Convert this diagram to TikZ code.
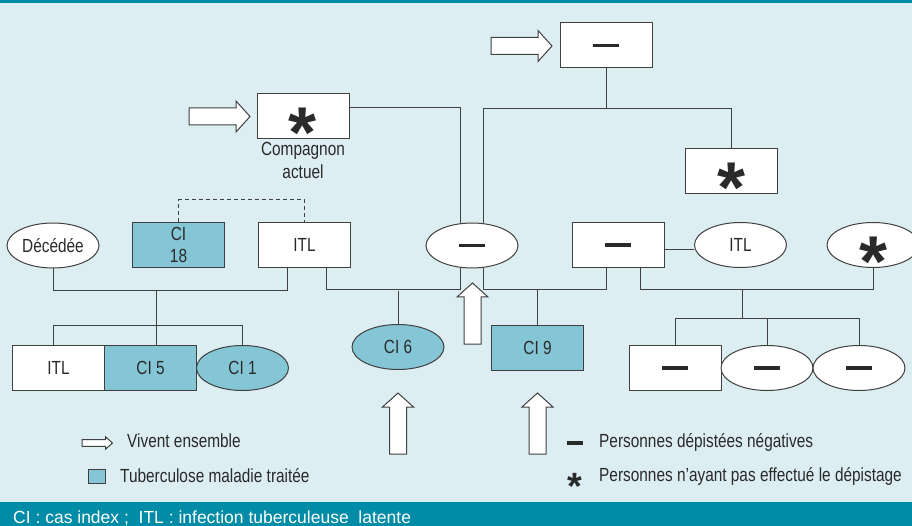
\documentclass[tikz,border=0pt]{standalone}
\usepackage{fontspec}
\setmainfont{Liberation Sans}[FakeStretch=0.81]
\newfontfamily\symfont{Liberation Sans}
\usetikzlibrary{shapes.geometric}
\usetikzlibrary{positioning}

\definecolor{bgblue}{HTML}{DDEEF3}
\definecolor{bandteal}{HTML}{008BA6}
\definecolor{cifill}{HTML}{85C6D6}
\definecolor{edgegray}{HTML}{404040}
\definecolor{inkgray}{HTML}{2A2A2A}

\newcommand\negbar[1][26pt]{\rule[-1.75pt]{#1}{3.5pt}}
\newcommand\nodestar[1][72]{{\fontsize{#1}{#1}\selectfont\raisebox{-0.57em}[0pt][0pt]{\symfont\bfseries *}}}

\tikzset{
  liveswith/.pic={
    \draw[draw=edgegray,fill=white,line width=1pt]
      (0,-8.5) -- (47,-8.5) -- (47,-15.5) -- (61,0) -- (47,15.5) -- (47,8.5) -- (0,8.5) -- cycle;
  }
}

\begin{document}
\begin{tikzpicture}
    [x=1pt,y=-1pt,
    male/.style={rectangle,draw=edgegray,fill=white,line width=1pt,
      inner sep=0pt,minimum width=92pt,minimum height=45pt,
      text=inkgray,font=\fontsize{19}{22}\selectfont,align=center},
    female/.style={male,ellipse},
    treated/.style={fill=cifill},
    link/.style={edgegray,line width=1pt},
    legendtext/.style={anchor=base west,text=inkgray,inner sep=0pt,
      font=\fontsize{19}{22}\selectfont}]

    \clip (0,0) rectangle (912,526);
    \fill[bgblue] (0,0) rectangle (912,526);
    \fill[bandteal] (0,0) rectangle (912,3);
    \fill[bandteal] (0,502) rectangle (912,526);

    % top generation
    \node[male]   (topneg)   at (606,45.5)  {\negbar};
    \node[male]   (topstar)  at (731,171.5) {\nodestar};
    \node[male]   (comp)     at (303,116.5) {\nodestar};
    \node[below=3pt of comp,align=center,inner sep=0pt,text=inkgray,
      font=\fontsize{19}{23}\selectfont] (complabel) {Compagnon\\actuel};

    % middle generation
    \node[female]         (dec)   at (53,245.5)  {Décédée};
    \node[male,treated]   (ci18)  at (178.5,245) {CI\\18};
    \node[male]           (itla)  at (304.5,245) {ITL};
    \node[female]         (mid)   at (472,245.5) {\negbar};
    \node[male]           (negr)  at (618,245)   {\negbar};
    \node[female]         (itlr)  at (740.5,245) {ITL};
    \node[female]         (starr) at (873,245)   {\nodestar};

    % children
    \node[male]                   (itlb)  at (58.5,368) {ITL};
    \node[male,treated]           (ci5)   [right=-1pt of itlb] {CI 5};
    \node[female,treated]         (ci1)   [right=-1pt of ci5]  {CI 1};
    \node[female,treated]         (ci6)   at (398,347)   {CI 6};
    \node[male,treated]           (ci9)   at (537.5,347.5) {CI 9};
    \node[male]                   (negc1) at (675,368)   {\negbar};
    \node[female]                 (negc2) [right=-1pt of negc1] {\negbar};
    \node[female]                 (negc3) [right=-1pt of negc2] {\negbar};

    % family lines
    \draw[link] (topneg.south) -- ++(0,40) coordinate (famtop);
    \draw[link] (mid.63) |- (famtop) -| (topstar.north);
    \draw[link] ([yshift=8.5pt]comp.east) -| (mid.117);
    \draw[link,dash pattern=on 4pt off 3pt] (ci18.north) -- ++(0,-22) -| (itla.north);

    \draw[link] (dec.south) -- ++(0,22) -| ([xshift=-17.5pt]itla.south);
    \draw[link] ([xshift=6pt]ci5.north) -- ++(0,-55);
    \draw[link] ([xshift=-5.5pt]itlb.north) -- ++(0,-20) -| (ci1.north);

    \draw[link] ([xshift=21.5pt]itla.south) -- ++(0,22) -| (mid.-117);
    \draw[link] (ci6.north) -- ++(0,-33);

    \draw[link] ([xshift=-12pt]negr.south) -- ++(0,22) -| (mid.-63);
    \draw[link] (ci9.north) -- ++(0,-35);

    \draw[link] ([yshift=-5pt]negr.east) -- ([yshift=-5pt]negr.east -| itlr.west);
    \draw[link] ([xshift=22pt]negr.south) -- ++(0,22) -| (starr.south);
    \draw[link] (negc1.north) -- ++(0,-27) -| (negc3.north);
    \draw[link] (negc2.north) -- ++(0,-27);
    \draw[link] ([xshift=-24.5pt]negc2.north) ++(0,-27) -- ++(0,-28);

    % living together
    \pic at (189,116.5) {liveswith};
    \pic at (491,46) {liveswith};
    \pic[rotate=90] at (472.5,344) {liveswith};
    \pic[rotate=90] at (398,454) {liveswith};
    \pic[rotate=90] at (537.5,454) {liveswith};

    % legend
    \pic[xscale=0.5,yscale=0.4] at (82,443) {liveswith};
    \node[legendtext] (lglive) at (127,447) {Vivent ensemble};
    \node[draw=edgegray,fill=cifill,line width=1pt,minimum width=17pt,
      minimum height=14pt,inner sep=0pt] (lgtreated) at (96.5,476) {};
    \node[legendtext] (lgtreatedtext) at (120,482) {Tuberculose maladie traitée};
    \node[text=inkgray,inner sep=0pt] (lgneg) at (575,443) {\negbar[16pt]};
    \node[legendtext] (lgnegtext) at (599,447) {Personnes dépistées négatives};
    \node[text=inkgray,inner sep=0pt] (lgstar) at (575,478) {\nodestar[38]};
    \node[legendtext] (lgstartext) at (599,481) {Personnes n’ayant pas effectué le dépistage};

    \node[anchor=base west,inner sep=0pt,text=white,
      font=\symfont\fontsize{17.5}{22}\selectfont] (footnote) at (13,523)
      {CI : cas index ;~ ITL : infection tuberculeuse~ latente};
  \end{tikzpicture}
\end{document}
